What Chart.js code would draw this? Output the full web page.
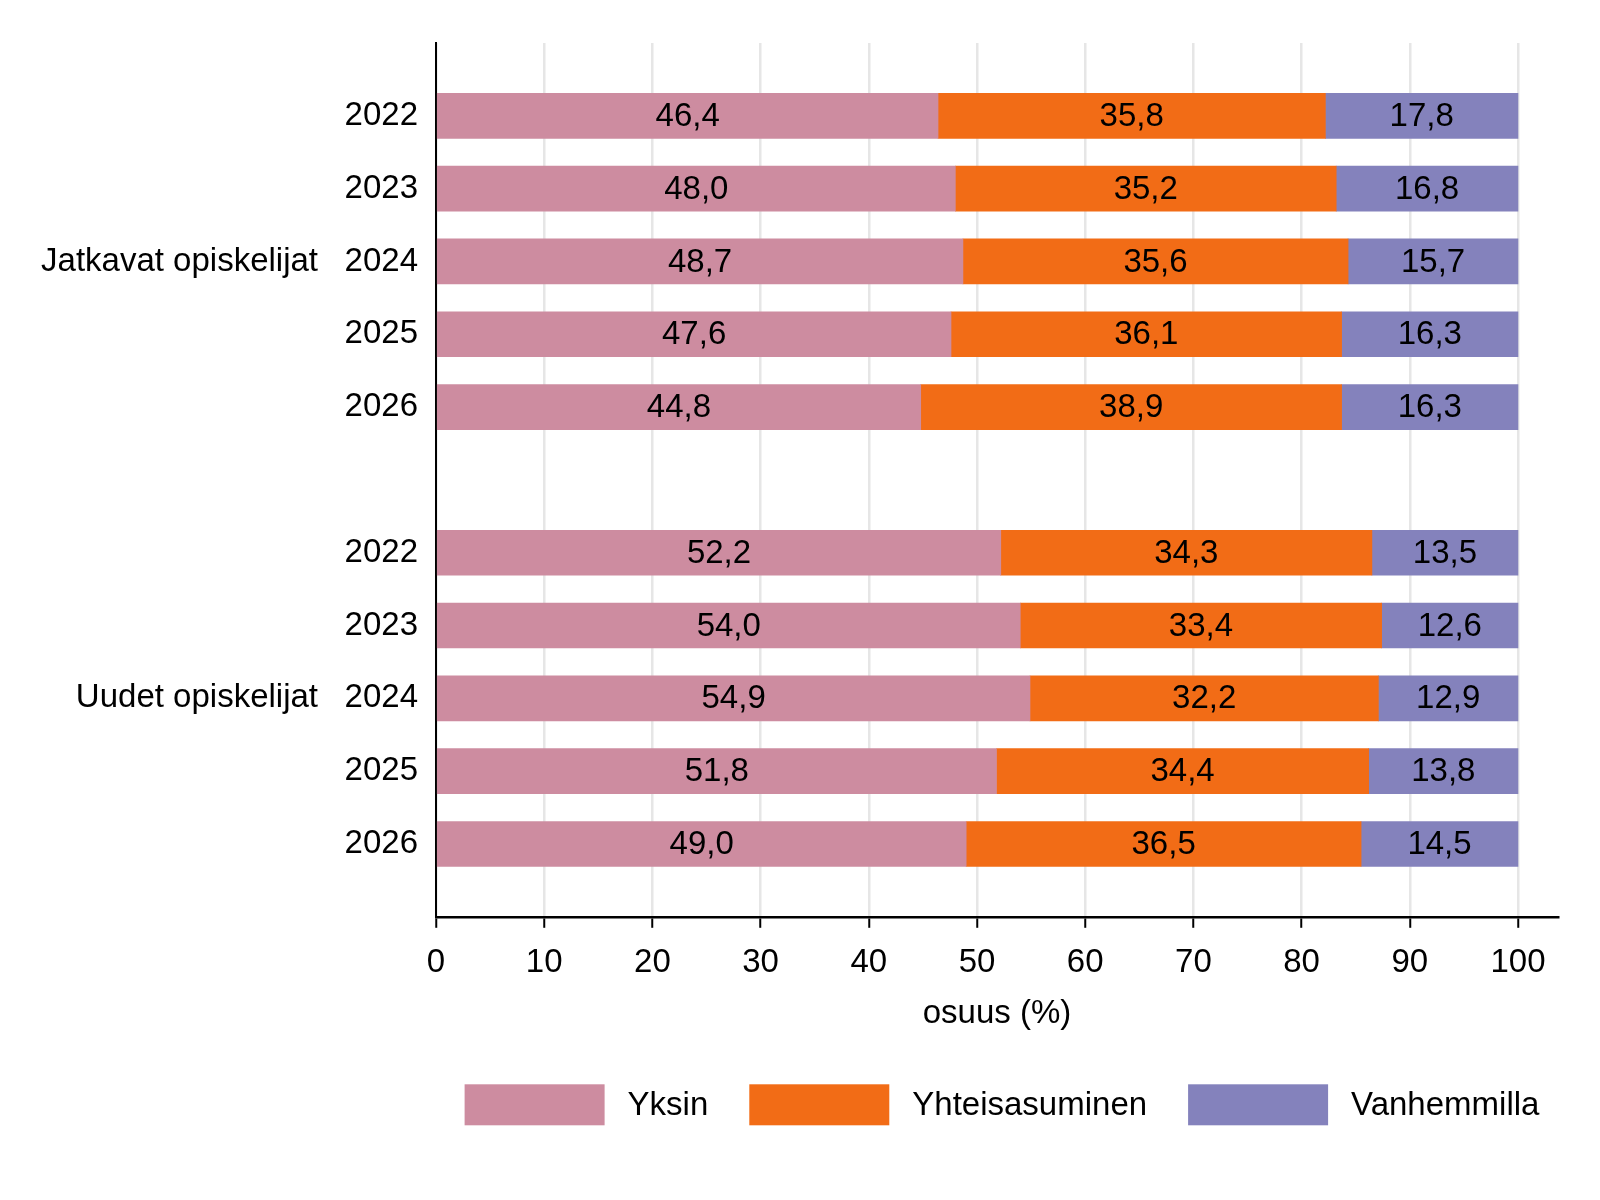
<!DOCTYPE html>
<html lang="fi">
<head>
<meta charset="UTF-8">
<title>Opiskelijoiden asuminen</title>
<script src="https://cdn.jsdelivr.net/npm/chart.js@4.4.1/dist/chart.umd.min.js"></script>
<style>
    html, body { margin: 0; padding: 0; background: #fff; }
</style>
</head>
<body>
<canvas id="chart" width="1600" height="1200"></canvas>
<script>
// data
const years = ['2022', '2023', '2024', '2025', '2026'];
const groups = ['Jatkavat opiskelijat', 'Uudet opiskelijat'];
const seriesNames = ['Yksin', 'Yhteisasuminen', 'Vanhemmilla'];

const jatkavatYksin = [46.4, 48.0, 48.7, 47.6, 44.8];
const jatkavatYhteis = [35.8, 35.2, 35.6, 36.1, 38.9];
const jatkavatVanhemmilla = [17.8, 16.8, 15.7, 16.3, 16.3];

const uudetYksin = [52.2, 54.0, 54.9, 51.8, 49.0];
const uudetYhteis = [34.3, 33.4, 32.2, 34.4, 36.5];
const uudetVanhemmilla = [13.5, 12.6, 12.9, 13.8, 14.5];

const xTicks = [0, 10, 20, 30, 40, 50, 60, 70, 80, 90, 100];

const colors = ['#cd8ca0', '#f26c16', '#8482bc'];
const FONT = '"Liberation Sans", Arial, sans-serif';
const FSIZE = 33;

// one empty row above, between and below the two groups
const labels = ['', ...years, '', ...years, ''];
const rows = (a, b) => [null, ...a, null, ...b, null];

const seriesData = [
    rows(jatkavatYksin, uudetYksin),
    rows(jatkavatYhteis, uudetYhteis),
    rows(jatkavatVanhemmilla, uudetVanhemmilla)
];

// arvot palkkien keskelle
const valueLabels = {
    id: 'valueLabels',
    afterDatasetsDraw(chart) {
        const ctx = chart.ctx;
        ctx.save();
        ctx.font = FSIZE + 'px ' + FONT;
        ctx.fillStyle = '#000';
        ctx.textAlign = 'center';
        ctx.textBaseline = 'middle';
        chart.data.datasets.forEach((ds, i) => {
            chart.getDatasetMeta(i).data.forEach((bar, j) => {
                const v = ds.data[j];
                if (v == null) return;
                ctx.fillText(v.toFixed(1).replace('.', ','), (bar.x + bar.base) / 2, bar.y + 1);
            });
        });
        ctx.restore();
    }
};

// ryhmien nimet vasemmalle
const groupLabels = {
    id: 'groupLabels',
    afterDraw(chart) {
        const ctx = chart.ctx;
        const yScale = chart.scales.y;
        ctx.save();
        ctx.font = FSIZE + 'px ' + FONT;
        ctx.fillStyle = '#000';
        ctx.textAlign = 'right';
        ctx.textBaseline = 'middle';
        groups.forEach((g, k) => {
            const mid = 1 + k * (years.length + 1) + Math.floor(years.length / 2);
            ctx.fillText(g, 318, yScale.getPixelForTick(mid));
        });
        ctx.restore();
    }
};

// selite yhdelle riville kuvan alle
const bottomLegend = {
    id: 'bottomLegend',
    afterDraw(chart) {
        const ctx = chart.ctx;
        const area = chart.chartArea;
        const boxW = 140, boxH = 41, textGap = 23, itemGap = 41;
        ctx.save();
        ctx.font = FSIZE + 'px ' + FONT;
        ctx.textBaseline = 'middle';
        ctx.textAlign = 'left';
        const items = chart.data.datasets.map(ds => ({
            text: ds.label,
            color: ds.backgroundColor,
            w: boxW + textGap + ctx.measureText(ds.label).width
        }));
        const total = items.reduce((s, it) => s + it.w, 0) + itemGap * (items.length - 1);
        let x = (area.left + area.right) / 2 + 5 - total / 2;
        const cy = area.bottom + 188;
        items.forEach(it => {
            ctx.fillStyle = it.color;
            ctx.fillRect(x, cy - boxH / 2, boxW, boxH);
            ctx.fillStyle = '#000';
            ctx.fillText(it.text, x + boxW + textGap, cy + 1);
            x += it.w + itemGap;
        });
        ctx.restore();
    }
};

new Chart(document.getElementById('chart'), {
    type: 'bar',
    data: {
        labels: labels,
        datasets: seriesNames.map((name, i) => ({
            label: name,
            data: seriesData[i],
            backgroundColor: colors[i],
            borderWidth: 0,
            barThickness: 45
        }))
    },
    options: {
        indexAxis: 'y',
        responsive: false,
        animation: false,
        layout: { padding: { top: 43, left: 0, right: 42, bottom: 166 } },
        plugins: {
            legend: { display: false },
            tooltip: { enabled: false }
        },
        scales: {
            x: {
                stacked: true,
                min: 0,
                max: 103.7,
                afterBuildTicks: (scale) => { scale.ticks = xTicks.map(v => ({ value: v })); },
                ticks: {
                    color: '#000',
                    padding: 15,
                    font: { family: FONT, size: FSIZE }
                },
                grid: {
                    color: '#e6e6e6',
                    lineWidth: 2.5,
                    tickColor: '#000',
                    tickLength: 11,
                    tickWidth: 2
                },
                border: { color: '#000', width: 2.5 },
                title: {
                    display: true,
                    text: 'osuus (%)',
                    color: '#000',
                    padding: { top: -3, bottom: 0 },
                    font: { family: FONT, size: FSIZE }
                }
            },
            y: {
                stacked: true,
                offset: false,
                afterFit: (scale) => { scale.width = 436; },
                ticks: {
                    autoSkip: false,
                    color: '#000',
                    padding: 18,
                    font: { family: FONT, size: FSIZE }
                },
                grid: { display: false, drawTicks: false },
                border: { color: '#000', width: 2 }
            }
        }
    },
    plugins: [valueLabels, groupLabels, bottomLegend]
});
</script>
</body>
</html>
